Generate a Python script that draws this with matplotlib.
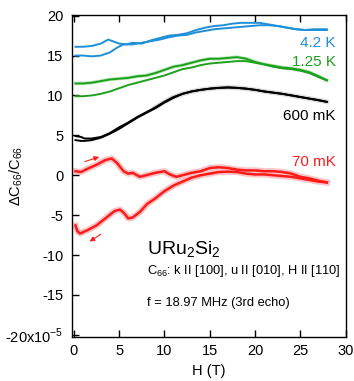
import numpy as np
import matplotlib
matplotlib.use("Agg")
import matplotlib.pyplot as plt

plt.rcParams["font.family"] = ["Liberation Sans", "DejaVu Sans"]
plt.rcParams["mathtext.fontset"] = "custom"
plt.rcParams["mathtext.rm"] = "Liberation Sans"

# 4.2 K, two field sweeps
h_42a = [0.2, 1, 2, 3, 3.8, 4.3, 5, 5.8, 6.5, 7.5, 8.5, 9.5, 10.5, 11.5, 12.5, 13.5, 14.5,
         15.5, 16.5, 17.5, 18.5, 19.5, 20.5, 21.5, 22.5, 23.5, 24.5, 25.5, 26.5, 27.9]
c_42a = [16.1, 16.1, 16.2, 16.5, 17.0, 16.8, 16.5, 16.4, 16.6, 16.5, 16.9, 17.2, 17.5, 17.6, 17.8,
         18.2, 18.5, 18.7, 18.8, 19.0, 19.1, 19.1, 19.1, 18.9, 18.7, 18.5, 18.3, 18.2, 18.3, 18.3]
h_42b = [0.2, 1, 2, 3, 4, 4.8, 5.5, 6.5, 7.5, 8.5, 9.5, 10.5, 11.5, 12.5, 13.5, 14.5, 15.5,
         16.5, 17.5, 18.5, 19.5, 20.5, 21.5, 22.5, 23.5, 24.5, 25.5, 26.5, 27.9]
c_42b = [15.0, 15.0, 14.9, 15.0, 15.4, 16.0, 16.4, 16.4, 16.6, 16.8, 17.0, 17.3, 17.5, 17.6, 17.9,
         18.1, 18.3, 18.4, 18.5, 18.6, 18.7, 18.8, 18.8, 18.7, 18.5, 18.3, 18.2, 18.2, 18.2]

# 1.25 K
h_125 = [0.2, 1, 2, 3, 4, 5, 6, 7, 8, 9, 10, 11, 12, 13, 14, 15, 16, 17, 18, 19, 20, 21, 22,
         23, 24, 25, 26, 27, 27.9]
c_125a = [11.5, 11.5, 11.6, 11.8, 12.0, 12.1, 12.2, 12.4, 12.5, 12.8, 13.2, 13.6, 13.8, 14.1, 14.4,
          14.6, 14.6, 14.7, 14.8, 14.6, 14.2, 13.9, 13.7, 13.5, 13.4, 13.2, 12.9, 12.4, 11.9]
c_125b = [9.9, 9.9, 10.0, 10.2, 10.5, 10.9, 11.3, 11.6, 11.9, 12.2, 12.5, 12.9, 13.3, 13.5, 13.8,
          14.0, 14.1, 14.2, 14.3, 14.3, 14.1, 13.9, 13.6, 13.4, 13.3, 13.1, 12.8, 12.3, 11.9]

# 600 mK
h_600 = [0.2, 0.8, 1.2, 2, 3, 4, 5, 6, 7, 8, 9, 10, 11, 12, 13, 14, 15, 16, 17, 18, 19, 20,
         21, 22, 23, 24, 25, 26, 27, 27.9]
c_600a = [4.9, 4.8, 4.6, 4.6, 4.8, 5.3, 6.0, 6.6, 7.3, 7.9, 8.5, 9.2, 9.8, 10.2, 10.5, 10.7,
          10.85, 10.95, 11.0, 10.95, 10.85, 10.7, 10.5, 10.35, 10.2, 10.0, 9.8, 9.6, 9.4, 9.2]
c_600b = [4.4, 4.3, 4.3, 4.4, 4.7, 5.2, 5.8, 6.5, 7.2, 7.8, 8.4, 9.1, 9.7, 10.2, 10.5, 10.7,
          10.85, 10.95, 11.0, 10.95, 10.85, 10.7, 10.5, 10.35, 10.2, 10.0, 9.8, 9.6, 9.4, 9.2]

# 70 mK, field up
h_70up = [0.2, 0.8, 1.5, 2.5, 3.5, 4.2, 4.8, 5.5, 6.0, 6.5, 7.3, 8, 9, 10, 10.6, 11.3, 12, 13,
          14, 15, 16, 17, 18, 19, 20, 21, 22, 23, 24, 25, 26, 27, 27.9]
c_70up = [0.5, 0.4, 0.8, 1.3, 1.9, 2.1, 1.5, 0.5, 0.2, 0.3, -0.2, 0.0, 0.3, 0.5, 0.1, -0.2, 0.0,
          0.3, 0.5, 0.9, 1.0, 0.9, 0.7, 0.6, 0.6, 0.5, 0.5, 0.4, 0.2, -0.2, -0.4, -0.7, -0.9]
# 70 mK, field down
h_70dn = [0.2, 0.4, 0.7, 1.5, 2.5, 3.5, 4.5, 5.1, 5.6, 6.0, 6.5, 7.3, 8.1, 9, 10, 11, 12, 13,
          14, 15, 16, 17, 18, 19, 20, 21, 22, 23, 24, 25, 26, 27, 27.9]
c_70dn = [-6.3, -7.0, -7.3, -6.9, -6.3, -5.4, -4.5, -4.3, -4.8, -5.4, -5.3, -4.6, -3.6, -2.9,
          -2.0, -1.3, -0.8, -0.3, 0.0, 0.2, 0.4, 0.45, 0.4, 0.2, 0.1, 0.1, 0.0, -0.1, -0.2,
          -0.4, -0.6, -0.8, -0.9]

BLUE = "#1e8fd8"
GREEN = "#1ea01e"
RED = "#ff1a1a"

fig = plt.figure(figsize=(3.54, 3.81), dpi=100)
ax = fig.add_axes([0.203, 0.115, 0.774, 0.846])

# pale raw traces underneath
ax.plot(h_125, c_125a, color="#b8e8b8", lw=2.6, zorder=1)
ax.plot(h_600[10:], c_600a[10:], color="#dcdcdc", lw=3.5, zorder=1)
ax.plot(h_70up, c_70up, color="#fcc4c4", lw=4.5, zorder=1)
ax.plot(h_70dn, c_70dn, color="#fcc4c4", lw=4.5, zorder=1)

ax.plot(h_42a, c_42a, color=BLUE, lw=1.4, zorder=2)
ax.plot(h_42b, c_42b, color=BLUE, lw=1.4, zorder=2)
ax.plot(h_125, c_125a, color=GREEN, lw=1.4, zorder=2)
ax.plot(h_125, c_125b, color=GREEN, lw=1.4, zorder=2)
ax.plot(h_600, c_600a, color="black", lw=1.4, zorder=2)
ax.plot(h_600, c_600b, color="black", lw=1.4, zorder=2)
ax.plot(h_70up, c_70up, color=RED, lw=1.8, zorder=2)
ax.plot(h_70dn, c_70dn, color=RED, lw=1.8, zorder=2)

# sweep direction arrows
arrow = dict(arrowstyle="-|>", color=RED, lw=0.8, mutation_scale=7)
ax.annotate("", xy=(3.1, 2.4), xytext=(0.95, 1.6), arrowprops=arrow)
ax.annotate("", xy=(1.5, -8.5), xytext=(3.25, -7.2), arrowprops=arrow)

lab = dict(ha="right", va="center", fontsize=11)
ax.text(28.9, 16.6, "4.2 K", color=BLUE, **lab)
ax.text(28.9, 14.2, "1.25 K", color=GREEN, **lab)
ax.text(28.9, 7.4, "600 mK", color="black", **lab)
ax.text(28.9, 1.7, "70 mK", color=RED, **lab)

ax.text(8.1, -9.3, r"URu$_2$Si$_2$", fontsize=14, va="center")
ax.text(8.1, -12.0, r"C$_{66}$: k II [100], u II [010], H II [110]", fontsize=9.3, va="center")
ax.text(8.1, -16.0, "f = 18.97 MHz (3rd echo)", fontsize=9.3, va="center")

ax.set_xlim(-0.2, 30)
ax.set_ylim(-20.3, 20.1)
ax.set_xticks([0, 5, 10, 15, 20, 25, 30])
ax.set_xticklabels(["0", "5", "10", "15", "20", "25", "30"])
ax.set_yticks([20, 15, 10, 5, 0, -5, -10, -15, -20])
ax.set_yticklabels(["20", "15", "10", "5", "0", "-5", "-10", "-15", r"-20x10$^{-5}$"])
ax.tick_params(direction="in", length=5, width=1, labelsize=10.5, top=True)
ax.tick_params(axis="y", pad=6)
ax.tick_params(axis="x", pad=5)
for s in ax.spines.values():
    s.set_linewidth(1.0)

ax.set_xlabel("H (T)", fontsize=10.5, labelpad=4)
ax.set_ylabel(r"$\Delta$C$_{66}$/C$_{66}$", fontsize=10.5)
ax.yaxis.set_label_coords(-0.17, 0.5)

fig.savefig("out.png", dpi=100)
